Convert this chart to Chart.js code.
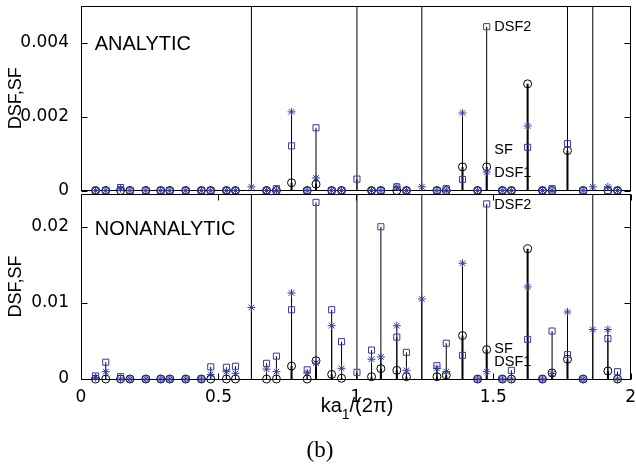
<!DOCTYPE html>
<html>
<head>
<meta charset="utf-8">
<script src="https://cdn.jsdelivr.net/npm/chart.js@4.4.0/dist/chart.umd.min.js"></script>
<style>
  body { margin: 0; background: #fff; }
  #wrap { position: relative; width: 636px; height: 470px; overflow: hidden; background: #fff; }
  #wrap canvas { position: absolute; left: 0; }
  #xtitle { position: absolute; left: 357px; top: 394px; transform: translateX(-50%);
            white-space: nowrap; font: 20px "Liberation Sans", Arial, sans-serif; color: #000; }
  #xtitle sub { font-size: 14px; vertical-align: -7px; }
  #caption { position: absolute; left: 320px; top: 437px; transform: translateX(-50%);
             font: 23px "Liberation Serif", "DejaVu Serif", serif; color: #000; }
</style>
</head>
<body>
<div id="wrap">
  <canvas id="topChart" width="636" height="200" style="top:0"></canvas>
  <canvas id="botChart" width="636" height="282" style="top:188px"></canvas>
  <div id="xtitle">ka<sub>1</sub>/(2π)</div>
  <div id="caption">(b)</div>
</div>
<script>
// wave-vector positions ka1/(2pi)
const kx = [0.053, 0.090, 0.144, 0.178, 0.236, 0.290, 0.323, 0.381, 0.438, 0.472,
            0.529, 0.562, 0.620, 0.675, 0.711, 0.766, 0.823, 0.855, 0.912, 0.948,
            1.004, 1.057, 1.091, 1.149, 1.184, 1.240, 1.295, 1.329, 1.388, 1.443,
            1.476, 1.533, 1.566, 1.625, 1.679, 1.714, 1.770, 1.827, 1.862, 1.917, 1.952];
const OFF = 1; // value beyond the top of the axis
// Bragg positions: lines running through both panels
const braggX = [0.620, 1.004, 1.240, 1.862];

// ANALYTIC panel
const sfA   = [0, 0, 0, 0, 0, 0, 0, 0, 0, 0,
               0, 0, null, 0, 0, 0.00021, 0, 0.00017, 0, 0,
               null, 0, 0, 0, 0, null, 0, 0, 0.00064, 0,
               0.00064, 0, 0, 0.00289, 0, 0, 0.00108, 0, null, 0, 0];
const dsf1A = [0, 0, 0.00005, 0, 0, 0, 0, 0, 0, 0,
               0, 0, 0.0001, 0, 0, 0.00213, 0, 0.00034, 0, 0,
               null, 0, 0, 0.0001, 0, 0.0001, 0, 0, 0.0021, 0,
               0.0005, 0, 0, 0.00175, 0, 0, OFF, 0, 0.0001, 0.0001, 0];
const dsf2A = [0, 0, 0.00008, 0, 0, 0, 0, 0, 0, 0,
               0, 0, null, 0, 0.00005, 0.00121, 0, 0.0017, 0, 0,
               0.00031, 0, 0, 0.0001, 0, null, 0, 0.00005, 0.0003, 0,
               0.00444, 0, 0, 0.00117, 0, 0.00005, 0.00127, 0, null, 0, 0];

// NONANALYTIC panel
const sfN   = [0, 0, 0, 0, 0, 0, 0, 0, 0, 0,
               0, 0, null, 0, 0, 0.0017, 0, 0.0024, 0.0006, 0.0001,
               null, 0.0003, 0.00136, 0.00114, 0.0003, null, 0.0003, 0.0005, 0.0057, 0,
               0.00386, 0, 0, 0.0171, 0, 0.0008, 0.0026, 0, null, 0.00105, 0];
const dsf1N = [0.0002, 0.00096, 0, 0, 0, 0, 0, 0, 0, 0.0006,
               0.00096, 0.00075, 0.0094, 0.0013, 0.00096, 0.0113, 0.0008, 0.0021, 0.007, 0.0014,
               null, 0.0026, 0.0029, 0.007, 0.00114, 0.0105, 0.0014, 0.00096, 0.0152, 0,
               0.00096, 0, 0, 0.0121, 0, 0.0007, 0.0088, 0, 0.0065, 0.0065, 0];
const dsf2N = [0.0004, 0.0022, 0.0003, 0, 0, 0, 0, 0, 0, 0.0016,
               0.00154, 0.00167, null, 0.00206, 0.003, 0.0091, 0.0012, 0.0232, 0.0091, 0.0049,
               0.00088, 0.0038, 0.02, 0.0055, 0.0035, null, 0.00175, 0.0047, 0.0031, 0,
               0.023, 0, 0.00114, 0.0052, 0, 0.0063, 0.0032, 0, null, 0.0053, 0.00096];

const xTicks = [0, 0.5, 1, 1.5, 2];
const yTicksA = [0, 0.002, 0.004];
const yTicksN = [0, 0.01, 0.02];

const BLUE = 'rgb(52, 58, 160)';
const TICKFONT = {family: 'DejaVu Sans', size: 17};

function stems(vals) {
    const pts = [];
    kx.forEach((x, i) => {
        const v = vals[i];
        if (v === null || v === 0) return;
        pts.push({x: x, y: 0}, {x: x, y: v}, {x: x, y: null});
    });
    return pts;
}
function marks(vals) {
    return kx.map((x, i) => ({x: x, y: vals[i]})).filter(p => p.y !== null);
}
function braggLines() {
    const pts = [];
    braggX.forEach(x => pts.push({x: x, y: 0}, {x: x, y: OFF}, {x: x, y: null}));
    return pts;
}

function panelDatasets(sf, dsf1, dsf2) {
    const stem = {showLine: true, pointRadius: 0, borderColor: '#000', spanGaps: false};
    return [
        {label: 'DSF1', data: marks(dsf1), pointStyle: 'star', pointRadius: 4,
         borderColor: BLUE, borderWidth: 1, order: 1, clip: false},
        {label: 'DSF2', data: marks(dsf2), pointStyle: 'rect', pointRadius: 4.3,
         borderColor: BLUE, backgroundColor: 'rgba(0,0,0,0)', borderWidth: 1, order: 2, clip: false},
        {label: 'SF', data: marks(sf), pointStyle: 'circle', pointRadius: 4,
         borderColor: '#000', backgroundColor: 'rgba(0,0,0,0)', borderWidth: 1, order: 3, clip: false},
        Object.assign({data: stems(sf), borderWidth: 2, order: 4}, stem),
        Object.assign({data: stems(dsf1), borderWidth: 1, order: 5}, stem),
        Object.assign({data: stems(dsf2), borderWidth: 1, order: 6}, stem),
        Object.assign({data: braggLines(), borderWidth: 1, order: 7}, stem)
    ];
}

// box with inward ticks, plus text labels
const panelFrame = {
    id: 'panelFrame',
    beforeDatasetsDraw(chart, args, opts) {
        const {ctx, chartArea: a, scales} = chart;
        const l = Math.floor(a.left) + 0.5, r = Math.floor(a.right) + 0.5;
        const t = Math.floor(a.top) + 0.5, b = Math.floor(a.bottom) + 0.5;
        ctx.save();
        ctx.strokeStyle = '#000';
        ctx.lineWidth = 1;
        ctx.strokeRect(l, t, r - l, b - t);
        ctx.beginPath();
        scales.y.ticks.forEach(tk => {
            const py = Math.round(scales.y.getPixelForValue(tk.value)) + 0.5;
            ctx.moveTo(l, py); ctx.lineTo(l + 6, py);
            ctx.moveTo(r, py); ctx.lineTo(r - 6, py);
        });
        if (opts.xTicks) {
            scales.x.ticks.forEach(tk => {
                const px = Math.round(scales.x.getPixelForValue(tk.value)) + 0.5;
                ctx.moveTo(px, b); ctx.lineTo(px, b - 6);
                ctx.moveTo(px, t); ctx.lineTo(px, t + 6);
            });
        }
        ctx.stroke();
        ctx.restore();
    },
    afterDraw(chart, args, opts) {
        const {ctx, scales} = chart;
        ctx.save();
        ctx.fillStyle = '#000';
        ctx.textBaseline = 'middle';
        ctx.textAlign = 'left';
        (opts.labels || []).forEach(lb => {
            ctx.font = lb.size + 'px "Liberation Sans", Arial, sans-serif';
            ctx.fillText(lb.text, scales.x.getPixelForValue(lb.x), scales.y.getPixelForValue(lb.y));
        });
        ctx.restore();
    }
};

function yAxis(max, ticks) {
    return {
        type: 'linear', min: 0, max: max,
        grid: {display: false}, border: {display: false},
        afterFit: s => { s.width = 81; s.paddingTop = 0; s.paddingBottom = 0; },
        afterBuildTicks: s => { s.ticks = ticks.map(v => ({value: v})); },
        ticks: {font: TICKFONT, color: '#000', padding: 4, callback: v => String(v)},
        title: {display: true, text: 'DSF,SF', color: '#000', padding: {top: 5, bottom: 0},
                font: {family: 'Liberation Sans', size: 18}}
    };
}

function ui_top() {
    const ctx = document.getElementById('topChart');
    new Chart(ctx, {
        type: 'scatter',
        data: {datasets: panelDatasets(sfA, dsf1A, dsf2A)},
        options: {
            responsive: false, animation: false, events: [],
            layout: {padding: {left: 0, right: 3, top: 6, bottom: 9.5}},
            scales: {
                x: {type: 'linear', min: 0, max: 2, display: false},
                y: yAxis(0.005, yTicksA)
            },
            plugins: {
                legend: {display: false}, tooltip: {enabled: false},
                panelFrame: {xTicks: false, labels: [
                    {text: 'ANALYTIC', x: 0.05, y: 0.00396, size: 20},
                    {text: 'DSF2', x: 1.504, y: 0.00444, size: 14.5},
                    {text: 'SF', x: 1.504, y: 0.0011, size: 14.5},
                    {text: 'DSF1', x: 1.504, y: 0.00048, size: 14.5}
                ]}
            }
        },
        plugins: [panelFrame]
    });
}

function ui_bottom() {
    const ctx = document.getElementById('botChart');
    new Chart(ctx, {
        type: 'scatter',
        data: {datasets: panelDatasets(sfN, dsf1N, dsf2N)},
        options: {
            responsive: false, animation: false, events: [],
            layout: {padding: {left: 0, right: 3, top: 6, bottom: 61}},
            scales: {
                x: {
                    type: 'linear', min: 0, max: 2,
                    grid: {display: false}, border: {display: false},
                    afterFit: s => { s.height = 30; s.paddingLeft = 0; s.paddingRight = 0; },
                    afterBuildTicks: s => { s.ticks = xTicks.map(v => ({value: v})); },
                    ticks: {font: TICKFONT, color: '#000', padding: 0, maxRotation: 0,
                            autoSkip: false, callback: v => String(v)}
                },
                y: yAxis(0.0243, yTicksN)
            },
            plugins: {
                legend: {display: false}, tooltip: {enabled: false},
                panelFrame: {xTicks: true, labels: [
                    {text: 'NONANALYTIC', x: 0.05, y: 0.0196, size: 20},
                    {text: 'DSF2', x: 1.504, y: 0.0229, size: 14.5},
                    {text: 'SF', x: 1.504, y: 0.0039, size: 14.5},
                    {text: 'DSF1', x: 1.504, y: 0.00224, size: 14.5}
                ]}
            }
        },
        plugins: [panelFrame]
    });
}

ui_top();
ui_bottom();
</script>
</body>
</html>
